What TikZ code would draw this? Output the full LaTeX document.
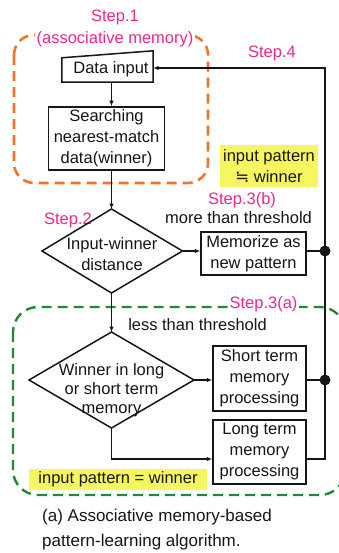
\documentclass[tikz,border=0pt]{standalone}
\usepackage{fontspec}
\setmainfont{Liberation Sans}
\newfontfamily\symfont{DejaVu Sans}
\usetikzlibrary{arrows.meta}
\definecolor{stepmag}{RGB}{236,40,140}
\definecolor{memorange}{RGB}{242,118,40}
\definecolor{groupgreen}{RGB}{28,140,50}
\definecolor{hilite}{RGB}{246,246,96}
\definecolor{ink}{RGB}{22,22,22}

\tikzset{
  >={Latex[length=5.5pt,width=4.5pt]},
  txt/.style={font=\fontsize{16.5}{21}\selectfont, text=ink, inner sep=0pt, align=center},
  steplbl/.style={txt, text=stepmag},
  procbox/.style={txt, draw=ink, line width=1.5pt},
  flow/.style={draw=ink, line width=1.5pt},
  memdash/.style={draw=memorange, line width=2.6pt, dash pattern=on 10pt off 6pt, rounded corners=20pt},
  grpdash/.style={draw=groupgreen, line width=2.4pt, dash pattern=on 10pt off 6pt, rounded corners=25pt},
  hl/.style={txt, fill=hilite},
  junction/.style={fill=ink}
}

\begin{document}
\begin{tikzpicture}[x=1pt,y=-1pt]
\useasboundingbox (0,0) rectangle (339,553);
\fill[white] (0,0) rectangle (339,553);

% dashed grouping frames
\draw[memdash] (14,35) rectangle (208,183);
\begin{scope}
  \clip (0,0) rectangle (339,553);
  \draw[grpdash] (13,307) rectangle (345,495);
\end{scope}

% step labels
\node[steplbl] (s1) at (115,17) {Step.1};
\node[steplbl, fill=white, inner xsep=2pt] (s1b) at (115,39) {(associative memory)};
\node[steplbl] (s4) at (272,53) {Step.4};
\node[steplbl] (s2) at (68,220) {Step.2};
\node[steplbl] (s3b) at (242,200) {Step.3(b)};
\node[steplbl, fill=white, inner xsep=2pt] (s3a) at (263.5,304) {Step.3(a)};

% data input (manual input shape)
\node[minimum width=91pt, minimum height=31pt, inner sep=0pt] (din) at (107.5,66.5) {};
\draw[flow] (din.south west) -- (din.south east) -- (din.north east)
  -- ([yshift=-7pt]din.north west) -- cycle;
\node[txt] (dintxt) at (111,69) {Data input};

% search box
\node[procbox, minimum width=116pt, minimum height=63pt] (srch) at (106.5,138.5)
  {Searching\\nearest-match\\data(winner)};

% decision 1
\coordinate (d1t) at (111.5,209);
\coordinate (d1b) at (111.5,293);
\coordinate (d1l) at (42,251);
\coordinate (d1r) at (182.5,251);
\draw[flow] (d1t) -- (d1r) -- (d1b) -- (d1l) -- cycle;
\node[txt] (d1) at (112,254.5) {Input-winner\\distance};

% memorize box
\node[procbox, minimum width=105pt, minimum height=43pt] (mem) at (253.5,253.5)
  {Memorize as\\new pattern};

% decision 2
\coordinate (d2t) at (111.5,332);
\coordinate (d2b) at (111.5,428);
\coordinate (d2l) at (29,380);
\coordinate (d2r) at (194,380);
\draw[flow] (d2t) -- (d2r) -- (d2b) -- (d2l) -- cycle;
\node[txt, font=\fontsize{16.5}{19}\selectfont] (d2) at (111.5,390)
  {Winner in long\\or short term\\memory};

% memory processing boxes
\node[procbox, minimum width=93pt, minimum height=65pt] (st) at (259.5,378.5)
  {Short term\\memory\\processing};
\node[procbox, minimum width=93pt, minimum height=64pt] (lt) at (259.5,452)
  {Long term\\memory\\processing};

% condition labels
\node[txt] (more) at (238.5,218) {more than threshold};
\node[txt] (less) at (197.5,325) {less than threshold};
\node[hl, minimum width=98pt, minimum height=42pt] (neq) at (269,166)
  {input pattern\\{\symfont ≒} winner};
\node[hl, minimum width=178pt, minimum height=21pt] (eq) at (118,479.5)
  {input pattern = winner};

% feedback bus
\coordinate (bus) at (325,68);

% connectors
\draw[flow,->] (din.south -| d1t) -- (srch.north -| d1t);
\draw[flow,->] (srch.south -| d1t) -- (d1t);
\draw[flow,->] (d1b) -- (d2t);
\draw[flow,->] (d1r) -- (d1r -| mem.west);
\draw[flow,->] (d2r) -- (d2r -| st.west);
\draw[flow,->] (d2b) |- ([yshift=-7pt]lt.west);
\draw[flow] (d1r -| mem.east) -- (d1r -| bus);
\draw[flow] (d2r -| st.east) -- (d2r -| bus);
\draw[flow,->] ([yshift=-7pt]lt.east) -| (bus) -- (bus -| din.east);
\fill[junction] (d1r -| bus) circle (5.5pt);
\fill[junction] (d2r -| bus) circle (5.5pt);

% caption
\node[txt, font=\fontsize{17}{25}\selectfont, align=left, anchor=west] (cap) at (42,529.5)
  {(a) Associative memory-based\\pattern-learning algorithm.};
\end{tikzpicture}
\end{document}
